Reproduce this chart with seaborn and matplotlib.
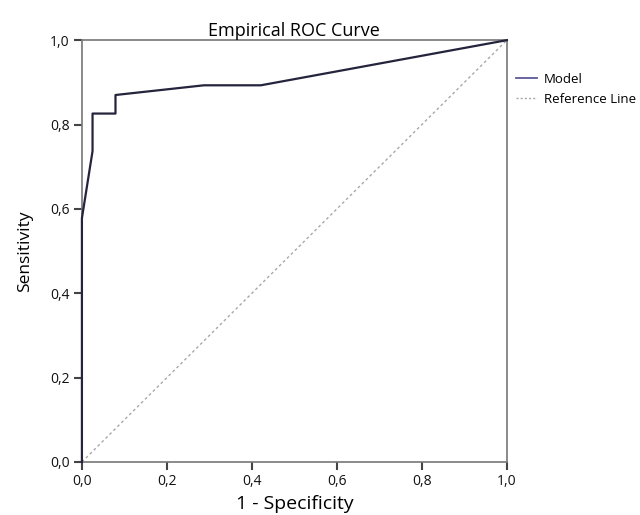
import matplotlib
matplotlib.use("Agg")
import matplotlib.pyplot as plt
import seaborn as sns
import pandas as pd
from matplotlib.lines import Line2D

plt.rcParams['font.family'] = ['Open Sans', 'DejaVu Sans']

fpr = [0.0, 0.0, 0.0, 0.025, 0.025, 0.079, 0.079, 0.287, 0.421, 1.0]
tpr = [0.0, 0.435, 0.578, 0.737, 0.826, 0.826, 0.870, 0.893, 0.893, 1.0]
ref = [0.0, 1.0]
ticks = [0.0, 0.2, 0.4, 0.6, 0.8, 1.0]
tick_labels = ["0,0", "0,2", "0,4", "0,6", "0,8", "1,0"]

df = pd.DataFrame({"fpr": fpr, "tpr": tpr})

fig = plt.figure(figsize=(6.4, 5.15), dpi=100)
ax = fig.add_axes([0.128, 0.103, 0.664, 0.819])

ax.plot(ref, ref, color="#a8a8a8", linestyle=(0, (2, 2)), linewidth=1.0)
sns.lineplot(data=df, x="fpr", y="tpr", sort=False, estimator=None,
             color="#24243c", linewidth=1.6, ax=ax)
for ln in ax.lines:
    ln.set_clip_on(False)
ax.lines[-1].set_zorder(5)

ax.set_xlim(0, 1)
ax.set_ylim(0, 1)
ax.set_xticks(ticks)
ax.set_xticklabels(tick_labels)
ax.set_yticks(ticks)
ax.set_yticklabels(tick_labels)
ax.tick_params(axis="both", which="major", direction="out", bottom=True, left=True,
               top=False, right=False,
               length=6, width=1.5, color="#444444",
               labelsize=10, labelcolor="#111111", pad=3)
ax.tick_params(axis="both", which="minor", bottom=False, left=False)
for s in ax.spines.values():
    s.set_color("#777777")
    s.set_linewidth(1.2)

ax.set_title("Empirical ROC Curve", fontsize=13, pad=3)
ax.set_xlabel("1 - Specificity", fontsize=14, labelpad=4)
ax.set_ylabel("Sensitivity", fontsize=12.5, labelpad=12)

handles = [Line2D([0], [0], color="#5a5a96", linewidth=1.3),
           Line2D([0], [0], color="#a8a8a8", linewidth=1.0, linestyle=(0, (1.5, 1.5)))]
leg = ax.legend(handles, ["Model", "Reference Line"], loc="upper left",
                bbox_to_anchor=(1.0, 0.945), frameon=False, fontsize=9.5,
                handlelength=1.6, handletextpad=0.5, labelspacing=0.55,
                borderaxespad=0.3)

fig.savefig("out.png", dpi=100)
